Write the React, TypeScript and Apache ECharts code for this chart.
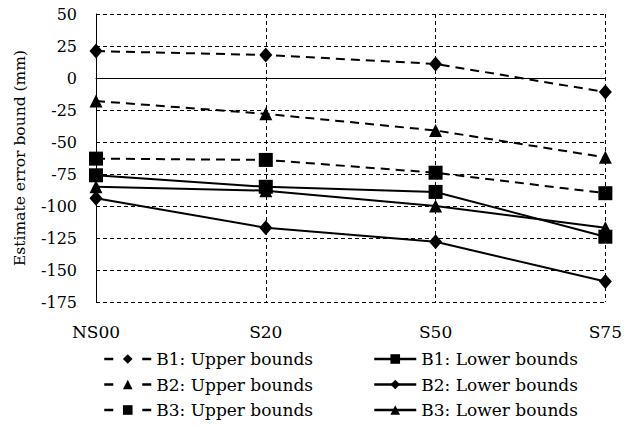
import React, { useEffect, useRef } from "react";
import * as echarts from "echarts";

const categories = ["NS00", "S20", "S50", "S75"];
const yTicks = [50, 25, 0, -25, -50, -75, -100, -125, -150, -175];

const b1Upper = [21, 18, 11, -11];
const b2Upper = [-18, -28, -41, -62];
const b3Upper = [-63, -64, -74, -90];
const b1Lower = [-76, -85, -89, -124];
const b2Lower = [-94, -117, -128, -159];
const b3Lower = [-85, -88, -100, -117];

const FONT = "DejaVu Serif";

export default function App() {
  const ref = useRef<HTMLDivElement>(null);
  useEffect(() => {
    if (!ref.current) return;
    const chart = echarts.init(ref.current, undefined, { renderer: "svg" });
    const mk = (name: string, data: number[], symbol: string, size: any, dashed: boolean) => ({
      name,
      type: "line",
      data,
      symbol,
      symbolSize: size,
      showSymbol: true,
      color: "#000",
      itemStyle: { color: "#000" },
      lineStyle: { color: "#000", width: 2, type: dashed ? [9, 6] : "solid" },
      z: dashed ? 3 : 4,
    });
    const legendText = { color: "#000", fontSize: 17, fontFamily: FONT, lineHeight: 22 };
    chart.setOption({
      animation: false,
      backgroundColor: "#fff",
      textStyle: { fontFamily: FONT },
      grid: { left: 96, right: 18, top: 14, bottom: 124, containLabel: false },
      xAxis: {
        type: "category",
        data: categories,
        boundaryGap: false,
        axisLine: { show: true, lineStyle: { color: "#000", width: 1 } },
        axisTick: { show: false },
        axisLabel: { color: "#000", fontSize: 17, fontFamily: FONT, margin: 21 },
        splitLine: { show: true, lineStyle: { color: "#000", width: 1, type: [4, 3] } },
      },
      yAxis: {
        type: "value",
        min: -175,
        max: 50,
        interval: 25,
        name: "Estimate error bound (mm)",
        nameLocation: "middle",
        nameGap: 68,
        nameTextStyle: { color: "#000", fontSize: 15.5, fontFamily: FONT },
        axisLine: { show: true, lineStyle: { color: "#000", width: 1 } },
        axisTick: { show: false },
        axisLabel: {
          color: "#000",
          fontSize: 16,
          fontFamily: FONT,
          margin: 19,
          formatter: (v: number) => (yTicks.includes(v) ? String(v) : ""),
        },
        splitLine: { show: true, lineStyle: { color: "#000", width: 1, type: [4, 3] } },
      },
      legend: [
        {
          orient: "vertical",
          left: 103,
          top: 348,
          padding: 0,
          itemWidth: 47,
          itemHeight: 12,
          itemGap: 3.5,
          lineStyle: { type: [9, 29], width: 2.5 },
          data: ["B1: Upper bounds", "B2: Upper bounds", "B3: Upper bounds"],
          textStyle: legendText,
        },
        {
          orient: "vertical",
          left: 373,
          top: 348,
          padding: 0,
          itemWidth: 42,
          itemHeight: 12,
          itemGap: 3.5,
          lineStyle: { width: 2.5 },
          data: ["B1: Lower bounds", "B2: Lower bounds", "B3: Lower bounds"],
          textStyle: legendText,
        },
      ],
      series: [
        mk("B1: Upper bounds", b1Upper, "diamond", [13, 15], true),
        mk("B2: Upper bounds", b2Upper, "triangle", 13, true),
        mk("B3: Upper bounds", b3Upper, "rect", 14, true),
        mk("B1: Lower bounds", b1Lower, "rect", 14, false),
        mk("B2: Lower bounds", b2Lower, "diamond", [13, 15], false),
        mk("B3: Lower bounds", b3Lower, "triangle", 13, false),
      ],
    });
    return () => chart.dispose();
  }, []);
  return <div ref={ref} style={{ width: 625, height: 426, position: "absolute", left: 0, top: 0 }} />;
}
